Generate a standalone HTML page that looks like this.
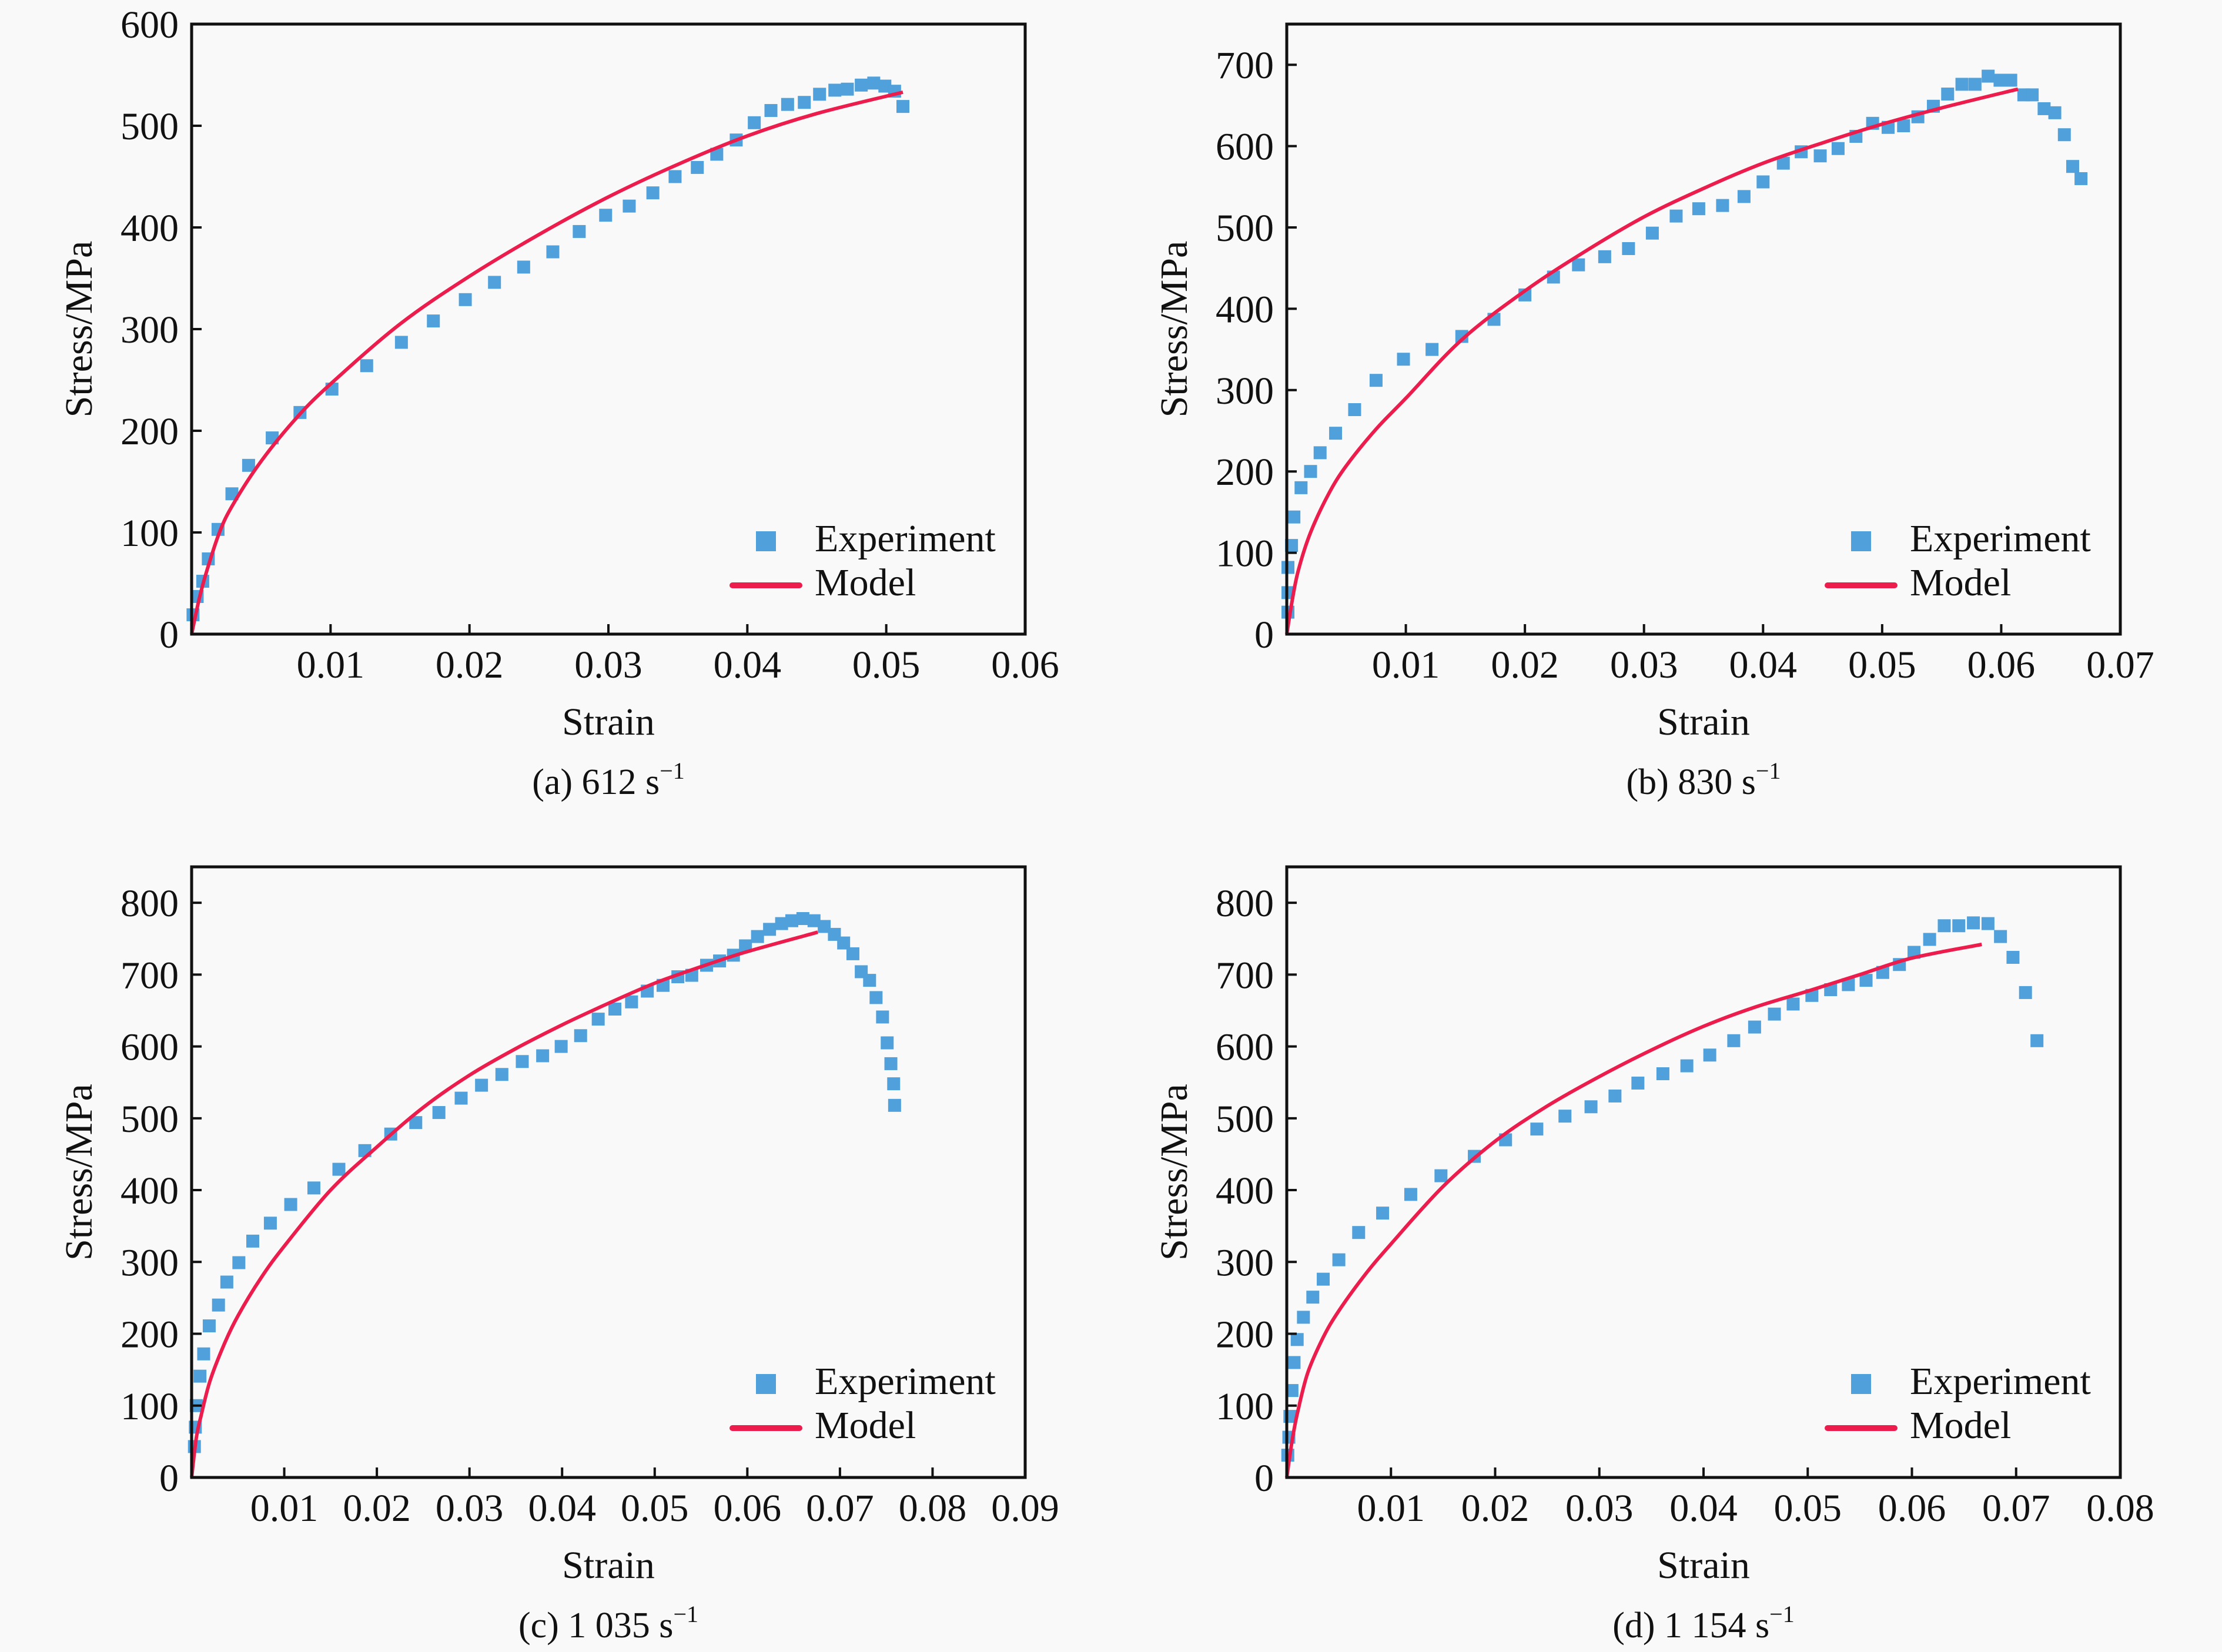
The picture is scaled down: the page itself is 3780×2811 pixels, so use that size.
<!DOCTYPE html>
<html><head><meta charset="utf-8"><style>
html,body{margin:0;padding:0;background:#f9f9f9;}
svg{display:block;font-family:"Liberation Serif",serif;}
</style></head><body>
<svg id="fig" width="3780" height="2811" viewBox="0 0 3780 2811" xmlns="http://www.w3.org/2000/svg">
<rect x="0" y="0" width="3780" height="2811" fill="#f9f9f9"/>
</svg>
<script>
// Panel (a) 612 s-1
const aStrain=[0.0001,0.0004,0.0008,0.0012,0.0019,0.0029,0.0041,0.0058,0.0078,0.0101,0.0126,0.0151,0.0174,0.0197,0.0218,0.0239,0.026,0.0279,0.0298,0.0315,0.0332,0.0348,0.0364,0.0378,0.0392,0.0405,0.0417,0.0429,0.0441,0.0452,0.0463,0.0472,0.0482,0.0491,0.0499,0.0506,0.0512];
const aStress=[19,37,52,74,103,138,166,193,218,241,264,287,308,329,346,361,376,396,412,421,434,450,459,472,486,503,515,521,523,531,535,536,540,542,539,534,519];
const aModelStrain=[0,0.0005,0.001,0.002,0.003,0.005,0.0075,0.01,0.015,0.02,0.025,0.03,0.035,0.04,0.045,0.0512];
const aModelStress=[0,32,58,100,128,170,212,246,305,352,393,430,462,490,512,533];
// Panel (b) 830 s-1
const bStrain=[0.0001,0.0001,0.0001,0.0004,0.0006,0.0012,0.002,0.0028,0.0041,0.0057,0.0075,0.0098,0.0122,0.0147,0.0174,0.02,0.0224,0.0245,0.0267,0.0287,0.0307,0.0327,0.0346,0.0366,0.0384,0.04,0.0417,0.0432,0.0448,0.0463,0.0478,0.0492,0.0505,0.0518,0.053,0.0543,0.0555,0.0567,0.0578,0.0589,0.0599,0.0608,0.0619,0.0626,0.0636,0.0645,0.0653,0.066,0.0667];
const bStress=[27,51,82,109,144,180,200,223,247,276,312,338,350,366,387,417,439,454,464,474,493,514,523,527,538,556,579,593,588,597,612,628,623,625,636,649,664,676,676,686,681,681,663,663,646,641,614,575,560];
const bModelStrain=[0,0.0005,0.001,0.002,0.0035,0.005,0.0075,0.01,0.0147,0.02,0.025,0.03,0.035,0.04,0.045,0.05,0.055,0.0614];
const bModelStress=[0,45,80,125,172,207,252,290,362,422,470,513,548,579,604,627,647,670];
// Panel (c) 1 035 s-1
const cStrain=[0.0003,0.0004,0.0005,0.0009,0.0013,0.0019,0.0029,0.0038,0.0051,0.0066,0.0085,0.0107,0.0132,0.0159,0.0187,0.0215,0.0242,0.0267,0.0291,0.0313,0.0335,0.0357,0.0379,0.0399,0.042,0.0439,0.0457,0.0475,0.0492,0.0509,0.0525,0.054,0.0556,0.057,0.0585,0.0598,0.0611,0.0624,0.0637,0.0648,0.066,0.0672,0.0683,0.0694,0.0704,0.0714,0.0723,0.0732,0.0739,0.0746,0.0751,0.0755,0.0758,0.0759];
const cStress=[43,70,100,141,172,211,240,272,299,329,354,380,403,429,455,478,494,508,528,546,561,579,587,600,615,638,652,662,677,685,697,699,713,719,727,740,753,763,771,775,778,775,767,756,744,729,704,692,668,641,605,576,548,518];
const cModelStrain=[0,0.0005,0.001,0.002,0.0035,0.005,0.0075,0.01,0.015,0.02,0.025,0.03,0.035,0.04,0.045,0.05,0.055,0.06,0.0676];
const cModelStress=[0,55,85,135,185,225,278,322,400,460,515,560,597,630,660,688,711,732,759];
// Panel (d) 1 154 s-1
const dStrain=[0.0001,0.0002,0.0003,0.0005,0.0007,0.001,0.0016,0.0025,0.0035,0.005,0.0069,0.0092,0.0119,0.0148,0.018,0.021,0.024,0.0267,0.0292,0.0315,0.0337,0.0361,0.0384,0.0406,0.0429,0.0449,0.0468,0.0486,0.0504,0.0522,0.0539,0.0556,0.0572,0.0588,0.0602,0.0617,0.0631,0.0645,0.0659,0.0673,0.0685,0.0697,0.0709,0.072];
const dStress=[31,56,85,121,160,192,223,251,276,303,341,368,394,420,447,470,485,503,516,531,549,562,573,588,608,627,645,659,671,679,686,692,703,714,731,749,768,768,772,771,753,724,675,608];
const dModelStrain=[0,0.0005,0.001,0.002,0.0035,0.005,0.0075,0.01,0.015,0.02,0.025,0.03,0.035,0.04,0.045,0.05,0.055,0.06,0.0667];
const dModelStress=[0,50,88,145,195,232,282,325,405,468,517,558,595,628,655,677,700,723,742];
// Tick labels
const aXTicks=["0.01","0.02","0.03","0.04","0.05","0.06"];
const bXTicks=["0.01","0.02","0.03","0.04","0.05","0.06","0.07"];
const cXTicks=["0.01","0.02","0.03","0.04","0.05","0.06","0.07","0.08","0.09"];
const dXTicks=["0.01","0.02","0.03","0.04","0.05","0.06","0.07","0.08"];
const aYTicks=["0","100","200","300","400","500","600"];
const bYTicks=["0","100","200","300","400","500","600","700"];
const cYTicks=["0","100","200","300","400","500","600","700","800"];
const dYTicks=["0","100","200","300","400","500","600","700","800"];

const NS="http://www.w3.org/2000/svg";
const svg=document.getElementById('fig');
function mk(tag,attrs,parent){const e=document.createElementNS(NS,tag);for(const k in attrs)e.setAttribute(k,attrs[k]);(parent||svg).appendChild(e);return e;}
function smooth(pts){
 let d='M'+pts[0][0].toFixed(1)+','+pts[0][1].toFixed(1);
 for(let i=0;i<pts.length-1;i++){
  const p0=pts[Math.max(0,i-1)],p1=pts[i],p2=pts[i+1],p3=pts[Math.min(pts.length-1,i+2)];
  const c1=[p1[0]+(p2[0]-p0[0])/6,p1[1]+(p2[1]-p0[1])/6];
  const c2=[p2[0]-(p3[0]-p1[0])/6,p2[1]-(p3[1]-p1[1])/6];
  d+=' C'+c1[0].toFixed(1)+','+c1[1].toFixed(1)+' '+c2[0].toFixed(1)+','+c2[1].toFixed(1)+' '+p2[0].toFixed(1)+','+p2[1].toFixed(1);
 }
 return d;
}

const panels=[
 {id:'a',x0:326,y0:41,w:1418,h:1038,xmax:0.06,ymax:600,xt:aXTicks,yt:aYTicks,es:aStrain,ev:aStress,ms:aModelStrain,mv:aModelStress,cap:'(a) 612 s'},
 {id:'b',x0:2189,y0:41,w:1418,h:1038,xmax:0.07,ymax:750,xt:bXTicks,yt:bYTicks,es:bStrain,ev:bStress,ms:bModelStrain,mv:bModelStress,cap:'(b) 830 s'},
 {id:'c',x0:326,y0:1475,w:1418,h:1039,xmax:0.09,ymax:850,xt:cXTicks,yt:cYTicks,es:cStrain,ev:cStress,ms:cModelStrain,mv:cModelStress,cap:'(c) 1 035 s'},
 {id:'d',x0:2189,y0:1475,w:1418,h:1039,xmax:0.08,ymax:850,xt:dXTicks,yt:dYTicks,es:dStrain,ev:dStress,ms:dModelStrain,mv:dModelStress,cap:'(d) 1 154 s'}
];

panels.forEach(p=>{
 const g=mk('g',{});
 
 
 const X=v=>p.x0+v/p.xmax*p.w;
 const Y=v=>p.y0+p.h-v/p.ymax*p.h;
 const eg=mk('g',{},g);
 
 
 p.es.forEach((s,i)=>{
  const r=mk('rect',{x:X(s)-11,y:Y(p.ev[i])-11,width:22,height:22,fill:'#4fa0db'},eg);
  
  
 });
 const pts=p.ms.map((s,i)=>[X(s),Y(p.mv[i])]);
 const ml=mk('path',{d:smooth(pts),fill:'none',stroke:'#ec1c4d','stroke-width':6,'stroke-linejoin':'round'},g);
 
 
 const fr=mk('rect',{x:p.x0,y:p.y0,width:p.w,height:p.h,fill:'none',stroke:'#111','stroke-width':5},g);
 
 
 p.xt.forEach(t=>{
  const v=parseFloat(t),x=X(v);
  mk('line',{x1:x,x2:x,y1:p.y0+p.h,y2:p.y0+p.h-17,stroke:'#111','stroke-width':4},g);
  const tx=mk('text',{x:x,y:p.y0+p.h+74,'font-size':66,'text-anchor':'middle',fill:'#111'},g);
  tx.textContent=t;
  
  
 });
 p.yt.forEach(t=>{
  const v=parseFloat(t),y=Y(v);
  mk('line',{x1:p.x0,x2:p.x0+17,y1:y,y2:y,stroke:'#111','stroke-width':4},g);
  const tx=mk('text',{x:p.x0-22,y:y+23,'font-size':66,'text-anchor':'end',fill:'#111'},g);
  tx.textContent=t;
  
  
 });
 const xtit=mk('text',{x:p.x0+p.w/2,y:p.y0+p.h+171,'font-size':66,'text-anchor':'middle',fill:'#111'},g);
 xtit.textContent='Strain';
 
 
 const cy=p.y0+p.h/2;
 const ytit=mk('text',{x:p.x0-170,y:cy,'font-size':66,'text-anchor':'middle',fill:'#111',transform:'rotate(-90 '+(p.x0-170)+' '+cy+')'},g);
 ytit.textContent='Stress/MPa';
 
 
 const cap=mk('text',{x:p.x0+p.w/2,y:p.y0+p.h+272,'font-size':62,'text-anchor':'middle',fill:'#111'},g);
 cap.textContent=p.cap;
 const sup=mk('tspan',{'font-size':40,dy:-26},cap);
 sup.textContent='−1';
 
 
 const lg=mk('g',{},g);
 
 
 const lx=p.x0+p.w, ly=p.y0;
 const sq=mk('rect',{x:lx-458,y:ly+863,width:34,height:34,fill:'#4fa0db'},lg);
 
 
 const t1=mk('text',{x:lx-358,y:ly+897,'font-size':66,fill:'#111'},lg);
 t1.textContent='Experiment';
 
 
 const ll=mk('line',{x1:lx-498,x2:lx-384,y1:ly+955,y2:ly+955,stroke:'#ec1c4d','stroke-width':10,'stroke-linecap':'round'},lg);
 
 
 const t2=mk('text',{x:lx-358,y:ly+972,'font-size':66,fill:'#111'},lg);
 t2.textContent='Model';
 
 
});
</script>
</body></html>
